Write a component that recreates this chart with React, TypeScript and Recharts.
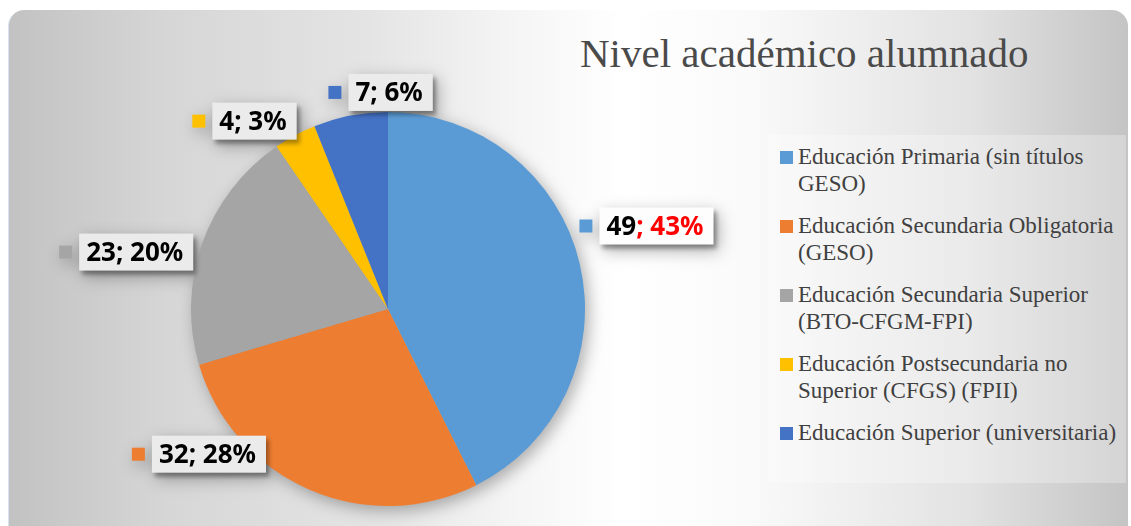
import React from 'react';
import { PieChart, Pie, Cell, Legend } from 'recharts';

const categories = [
  'Educación Primaria (sin títulos GESO)',
  'Educación Secundaria Obligatoria (GESO)',
  'Educación Secundaria Superior (BTO-CFGM-FPI)',
  'Educación Postsecundaria no Superior (CFGS) (FPII)',
  'Educación Superior (universitaria)',
];
const values = [49, 32, 23, 4, 7];
const colors = ['#5B9BD5', '#ED7D31', '#A5A5A5', '#FFC000', '#4472C4'];
const title = 'Nivel académico alumnado';
const highlightIndex = 0;

// label placement relative to slice mid-angle (degrees shift, radius factor)
const labelPlacement = [
  { dAngle: 4.5, rf: 1.378 },
  { dAngle: -29, rf: 1.21 },
  { dAngle: 7.3, rf: 1.36 },
  { dAngle: 9.2, rf: 1.2 },
  { dAngle: -9, rf: 1.1 },
];

const data = categories.map((name, i) => ({ name, value: values[i] }));
const total = values.reduce((a, b) => a + b, 0);

const LABEL_FONT = '700 26px "Noto Sans"';
let ctx: CanvasRenderingContext2D | null = null;
function measure(t: string): number {
  try {
    if (!ctx) ctx = document.createElement('canvas').getContext('2d');
    if (ctx) {
      ctx.font = LABEL_FONT;
      return ctx.measureText(t).width;
    }
  } catch (e) {}
  return t.length * 14;
}

const RAD = Math.PI / 180;

function renderLabel(props: any) {
  const { cx, cy, midAngle, outerRadius, index, value } = props;
  const p = labelPlacement[index];
  const ang = midAngle + p.dAngle;
  const r = outerRadius * p.rf;
  const gx = cx + r * Math.cos(-ang * RAD);
  const gy = cy + r * Math.sin(-ang * RAD);
  const pct = Math.round((value / total) * 100);
  const head = `${value}`;
  const tail = `; ${pct}%`;
  const tw = measure(head + tail);
  const boxW = tw + 17;
  const boxH = 37;
  const ms = 13;
  const gap = 7;
  const groupW = ms + gap + boxW;
  const left = gx - groupW / 2;
  const boxX = left + ms + gap;
  const fill = gx > cx ? '#fdfdfd' : '#ebebeb';
  return (
    <g key={`lbl-${index}`}>
      <rect x={left} y={gy - ms / 2} width={ms} height={ms} fill={colors[index]} />
      <rect
        x={boxX}
        y={gy - boxH / 2}
        width={boxW}
        height={boxH}
        fill={fill}
        style={{ filter: 'drop-shadow(3px 4px 2px rgba(0,0,0,0.35))' }}
      />
      <text x={boxX + 7} y={gy + 9} fontFamily='"Noto Sans", sans-serif' fontWeight={700} fontSize={26}>
        <tspan fill="#000">{head}</tspan>
        <tspan fill={index === highlightIndex ? '#FF0000' : '#000'}>{tail}</tspan>
      </text>
    </g>
  );
}

function renderLegend() {
  return (
    <div
      style={{
        width: 358,
        height: 348,
        background: 'rgba(255,255,255,0.28)',
        boxSizing: 'border-box',
        padding: '8px 0 0 12px',
        fontFamily: '"Liberation Serif", serif',
        fontSize: 23,
        lineHeight: '27px',
        color: '#404040',
        textAlign: 'left',
      }}
    >
      {categories.map((name, i) => (
        <div key={i} style={{ display: 'flex', alignItems: 'flex-start', marginBottom: 15 }}>
          <span
            style={{
              width: 13,
              height: 13,
              background: colors[i],
              flex: '0 0 13px',
              marginTop: 8,
              marginRight: 5,
            }}
          />
          <span style={{ width: 327 }}>{name}</span>
        </div>
      ))}
    </div>
  );
}

export default function App() {
  return (
    <div
      style={{
        position: 'absolute',
        left: 0,
        top: 0,
        width: 1131,
        height: 526,
        background: '#ffffff',
        overflow: 'hidden',
      }}
    >
      <style>{`svg.recharts-surface{filter:drop-shadow(4px 5px 8px rgba(0,0,0,0.3));}`}</style>
      <div
        style={{
          position: 'absolute',
          left: 8,
          top: 10,
          width: 1120,
          height: 530,
          borderRadius: 16,
          borderLeft: '1px solid #d6e2f0',
          boxSizing: 'border-box',
          background:
            'linear-gradient(90deg, #c2c2c2 0%, #d6d6d6 14%, #e4e4e4 32%, #f6f6f6 46%, #ffffff 55%, #fafafa 66%, #e2e2e2 86%, #c4c4c4 100%)',
        }}
      />
      <div
        style={{
          position: 'absolute',
          left: 580,
          top: 33,
          fontFamily: '"Liberation Serif", serif',
          fontSize: 41,
          lineHeight: '40px',
          color: '#4a4a4a',
          whiteSpace: 'nowrap',
        }}
      >
        {title}
      </div>
      <div style={{ position: 'absolute', left: 0, top: 0 }}>
        <PieChart width={1131} height={526} margin={{ top: 0, right: 0, bottom: 0, left: 0 }}>
          <Pie
            data={data}
            dataKey="value"
            nameKey="name"
            cx={388}
            cy={309}
            outerRadius={197}
            startAngle={90}
            endAngle={-270}
            stroke="none"
            label={renderLabel}
            labelLine={false}
            isAnimationActive={false}
          >
            {data.map((d, i) => (
              <Cell key={i} fill={colors[i]} />
            ))}
          </Pie>
          <Legend
            layout="vertical"
            align="right"
            verticalAlign="top"
            content={renderLegend}
            wrapperStyle={{ left: 768, top: 135, width: 358, height: 348, right: 'auto' }}
          />
        </PieChart>
      </div>
    </div>
  );
}
